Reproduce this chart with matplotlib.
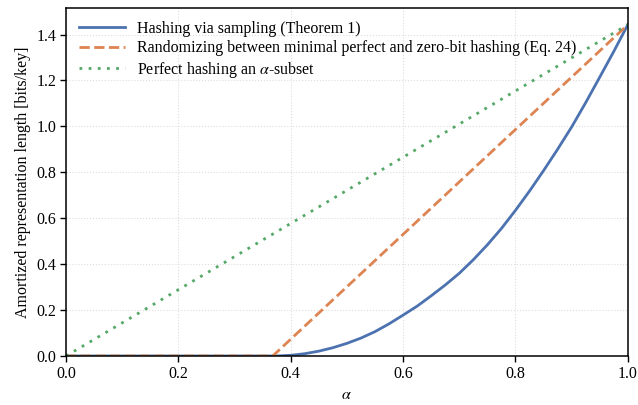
import matplotlib
matplotlib.use("Agg")
import matplotlib.pyplot as plt

# Values
alpha = [0.0, 0.1, 0.2, 0.3, 0.35, 0.375, 0.40, 0.425, 0.45, 0.475, 0.50, 0.525,
         0.55, 0.575, 0.60, 0.625, 0.65, 0.675, 0.70, 0.725, 0.75, 0.775, 0.80,
         0.825, 0.85, 0.875, 0.90, 0.925, 0.95, 0.975, 1.0]
sampling_bits = [0.0, 0.0, 0.0, 0.0, 0.0, 0.0, 0.003, 0.010, 0.021, 0.036, 0.055, 0.078,
                 0.106, 0.140, 0.178, 0.217, 0.262, 0.309, 0.360, 0.419, 0.484, 0.555, 0.634,
                 0.718, 0.807, 0.900, 0.997, 1.103, 1.214, 1.326, 1.4427]

mix_alpha = [0.0, 0.368, 1.0]
mix_bits = [0.0, 0.0, 1.4427]

subset_alpha = [0.0, 1.0]
subset_bits = [0.0, 1.4427]

labels = [
    "Hashing via sampling (Theorem 1)",
    "Randomizing between minimal perfect and zero-bit hashing (Eq. 24)",
    r"Perfect hashing an $\alpha$-subset",
]

plt.rcParams["font.family"] = "Liberation Serif"
plt.rcParams["mathtext.fontset"] = "stix"
plt.rcParams["font.size"] = 11.5

fig = plt.figure(figsize=(6.38, 4.05), dpi=100)
ax = fig.add_axes([0.1034, 0.121, 0.8806, 0.859])

ax.plot(alpha, sampling_bits, color="#4C72B0", lw=2.0, label=labels[0])
ax.plot(mix_alpha, mix_bits, color="#DD8452", lw=2.0, ls=(0, (3.7, 1.6)), label=labels[1])
ax.plot(subset_alpha, subset_bits, color="#55A868", lw=2.0, ls=(0, (1, 2.3)), label=labels[2])

ax.set_xlim(0, 1)
ax.set_ylim(0, 1.515)
ax.set_xticks([0.0, 0.2, 0.4, 0.6, 0.8, 1.0])
ax.set_yticks([0.0, 0.2, 0.4, 0.6, 0.8, 1.0, 1.2, 1.4])
ax.grid(True, color="#dddddd", ls=":", lw=0.8)
ax.tick_params(direction="out", length=4, width=1.0, colors="black", pad=3)
for s in ax.spines.values():
    s.set_linewidth(1.1)
    s.set_color("black")

ax.set_xlabel(r"$\alpha$")
ax.set_ylabel("Amortized representation length [bits/key]")
ax.legend(loc="upper left", frameon=False, handlelength=2.9, handletextpad=0.75,
          borderaxespad=0.4, labelspacing=0.22)

fig.savefig("out.png", dpi=100)
